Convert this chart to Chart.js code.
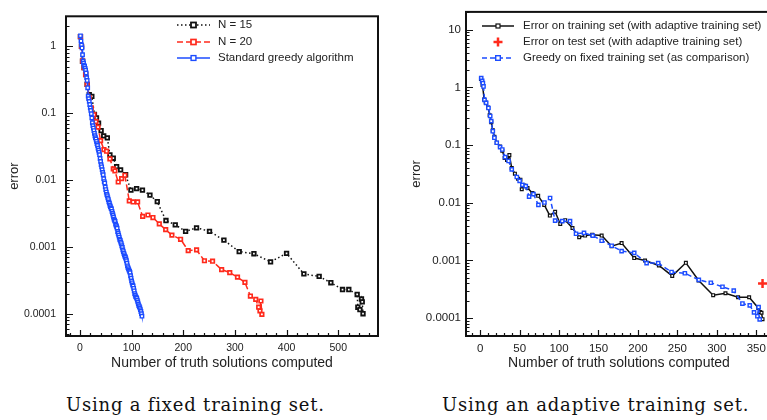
<!DOCTYPE html>
<html>
<head>
<meta charset="utf-8">
<script src="https://cdn.jsdelivr.net/npm/chart.js@4.4.0/dist/chart.umd.min.js"></script>
<style>
  html, body { margin: 0; padding: 0; background: #fff; width: 767px; height: 420px; overflow: hidden; }
  canvas { position: absolute; top: 0; }
  #leftChart { left: 0; }
  #rightChart { left: 385px; }
  .caption { position: absolute; top: 395px; line-height: 20px; font-family: "DejaVu Serif", serif; font-size: 18px; letter-spacing: 0.8px; color: #111; white-space: nowrap; }
</style>
</head>
<body>
<canvas id="leftChart" width="385" height="372"></canvas>
<canvas id="rightChart" width="400" height="372"></canvas>
<div class="caption" style="left:66px">Using a fixed training set.</div>
<div class="caption" style="left:442px">Using an adaptive training set.</div>
<script>
// ---- left panel: fixed training set ----
const n15X = [1, 3, 5, 8, 11, 14, 18, 23, 28, 32, 36, 41, 46, 53, 58, 64.5, 71, 78.7, 88.4, 98.7, 109.7, 121, 135.5, 149.7, 166.5, 184.5, 204.5, 225.7, 250.8, 278.7, 308.3, 336.8, 369, 400, 433.5, 463.1, 485.7, 508.3, 520.5, 536.7, 538, 542, 545, 546.5, 548];
const n15Err = [1.4, 1.0, 0.6, 0.48, 0.38, 0.27, 0.19, 0.179, 0.096, 0.085, 0.071, 0.055, 0.0457, 0.0428, 0.0238, 0.0212, 0.0159, 0.0142, 0.012, 0.00706, 0.00745, 0.00706, 0.00596, 0.00475, 0.00248, 0.00214, 0.00171, 0.00193, 0.00171, 0.00126, 0.00085, 0.00079, 0.000598, 0.0008, 0.000394, 0.000361, 0.000291, 0.00023, 0.00023, 0.000194, 0.000125, 0.000115, 0.000166, 0.00015, 0.0001];

const n20X = [1, 3, 5, 8, 11, 14, 18, 22, 27, 31, 35, 40, 46.4, 51.6, 58, 64.5, 67.7, 74.1, 80.7, 87, 95.5, 103, 111.6, 121.4, 131.6, 141.3, 153.6, 166, 178, 194.8, 209.6, 225.8, 241, 256.7, 274.3, 290, 305, 319.4, 330, 340.3, 346, 348.5, 350.3, 352.2];
const n20Err = [1.4, 1.0, 0.6, 0.48, 0.38, 0.27, 0.17, 0.12, 0.095, 0.075, 0.062, 0.039, 0.0285, 0.027, 0.0208, 0.0147, 0.0137, 0.00935, 0.0105, 0.0118, 0.00487, 0.0047, 0.0047, 0.00286, 0.003, 0.00275, 0.00221, 0.00181, 0.0015, 0.0013, 0.00088, 0.0009, 0.00062, 0.00061, 0.000457, 0.000413, 0.000352, 0.000294, 0.000184, 0.000164, 0.000125, 0.00011, 0.000155, 0.0000975];

const greedyX = [1, 2, 3, 4, 5, 6, 7, 8, 9, 10, 11, 12, 13, 14, 15, 16, 17, 18, 19, 20, 21, 22, 23, 24, 25, 26, 27, 28, 29, 30, 31, 32, 33, 34, 35, 36, 37, 38, 39, 40, 41, 42, 43, 44, 45, 46, 47, 48, 49, 50, 51, 52, 53, 54, 55, 56, 57, 58, 59, 60, 61, 62, 63, 64, 65, 66, 67, 68, 69, 70, 71, 72, 73, 74, 75, 76, 77, 78, 79, 80, 81, 82, 83, 84, 85, 86, 87, 88, 89, 90, 91, 92, 93, 94, 95, 96, 97, 98, 99, 100, 101, 102, 103, 104, 105, 106, 107, 108, 109, 110, 111, 112, 113, 114, 115, 116, 117, 118, 119, 120];
const greedyErr = [1.44, 1.2, 1.05, 0.95, 0.75, 0.6, 0.56, 0.52, 0.5, 0.47, 0.44, 0.4, 0.34, 0.31, 0.24, 0.18, 0.165, 0.15, 0.135, 0.12, 0.11, 0.098, 0.085, 0.072, 0.065, 0.06, 0.055, 0.05, 0.046, 0.043, 0.041, 0.038, 0.035, 0.033, 0.03, 0.028, 0.026, 0.024, 0.021, 0.019, 0.017, 0.0158, 0.0143, 0.013, 0.012, 0.0105, 0.0095, 0.009, 0.0079, 0.0072, 0.0066, 0.0061, 0.0058, 0.0054, 0.0051, 0.0047, 0.0045, 0.0042, 0.004, 0.0038, 0.0037, 0.0034, 0.0032, 0.003, 0.0028, 0.0026, 0.0025, 0.0024, 0.0022, 0.0021, 0.002, 0.0019, 0.0017, 0.0016, 0.0015, 0.0014, 0.0013, 0.00125, 0.00118, 0.00112, 0.00104, 0.00098, 0.0009, 0.00085, 0.0008, 0.00076, 0.00072, 0.0007, 0.00066, 0.00062, 0.00057, 0.00052, 0.00049, 0.00047, 0.00045, 0.00043, 0.00041, 0.00037, 0.00034, 0.00031, 0.00029, 0.00027, 0.00026, 0.00024, 0.00022, 0.0002, 0.00019, 0.00018, 0.000175, 0.00017, 0.00016, 0.00015, 0.00014, 0.000132, 0.000128, 0.000122, 0.000115, 0.000108, 0.0001, 0.000092];

// ---- right panel: adaptive training set ----
const adaptX = [1, 3, 5, 7, 10, 12, 14, 16, 18, 21, 25, 28, 31, 34, 37, 40, 44, 48, 51, 52.7, 56, 60, 66.2, 73.5, 81.2, 88.3, 95, 101.5, 107.8, 117, 125.5, 133, 142, 154, 166.7, 179.3, 195.3, 209, 226.6, 243.5, 260.8, 277, 295.4, 311, 327, 341, 352.6, 355, 356.7, 358];
const adaptErr = [1.4, 1.1, 0.62, 0.55, 0.45, 0.33, 0.25, 0.18, 0.14, 0.11, 0.095, 0.08, 0.06, 0.055, 0.067, 0.04, 0.032, 0.026, 0.025, 0.0172, 0.02, 0.018, 0.0147, 0.0132, 0.0092, 0.006, 0.007, 0.0043, 0.005, 0.00366, 0.00252, 0.0027, 0.0028, 0.0027, 0.00177, 0.002, 0.0011, 0.001, 0.00082, 0.00054, 0.00091, 0.00045, 0.00025, 0.00027, 0.00023, 0.00023, 0.00015, 0.000128, 0.000124, 0.000096];

const testX = [358];
const testErr = [0.0004];

const fixedX = [1.3, 2.5, 3.4, 4.2, 5.5, 7.6, 10.5, 12.7, 14, 16, 18, 21, 25.3, 28, 31.6, 36, 40, 46.4, 50, 53.5, 57.8, 62, 67.5, 73.8, 81.4, 88.6, 95, 104, 113.9, 121.5, 131.6, 142.7, 154, 166.7, 179.3, 195.3, 211, 225.7, 242.6, 259.5, 277.2, 292.4, 307.2, 321.5, 332.5, 341.8, 347.2, 351.5, 353, 354.4];
const fixedErr = [1.45, 1.3, 1.19, 1.04, 0.61, 0.54, 0.44, 0.32, 0.26, 0.174, 0.134, 0.11, 0.092, 0.084, 0.062, 0.053, 0.038, 0.028, 0.024, 0.0204, 0.0195, 0.0128, 0.0141, 0.0092, 0.0101, 0.0121, 0.0049, 0.0048, 0.0048, 0.0029, 0.003, 0.0027, 0.0022, 0.0018, 0.00145, 0.00135, 0.0009, 0.0009, 0.00063, 0.0006, 0.00046, 0.00041, 0.00035, 0.0003, 0.000179, 0.000166, 0.000126, 0.000108, 0.000155, 0.000095];

// tick labels
const leftXTicks = [0, 100, 200, 300, 400, 500];
const rightXTicks = [0, 50, 100, 150, 200, 250, 300, 350];
const leftYTicks = [0.0001, 0.001, 0.01, 0.1, 1];
const leftYLabels = ["0.0001", "0.001", "0.01", "0.1", "1"];
const rightYTicks = [0.0001, 0.001, 0.01, 0.1, 1, 10];
const rightYLabels = ["0.0001", "0.001", "0.01", "0.1", "1", "10"];

const BLACK = "#111111";
const RED = "#ff2a1c";
const BLUE = "#1c4cff";
const FONT = '"Liberation Sans", Arial, sans-serif';

function pts(xs, ys) {
  return xs.map((x, i) => ({ x: x, y: ys[i] }));
}

function yLabel(ticks, labels) {
  return v => {
    const i = ticks.findIndex(t => Math.abs(t - v) / t < 1e-6);
    return i < 0 ? "" : labels[i];
  };
}

// inward ticks, frame and legend drawn after the datasets
const decorPlugin = {
  id: "decor",
  afterDraw(chart, args, o) {
    const { ctx, chartArea: a, scales: { x, y } } = chart;
    ctx.save();
    ctx.strokeStyle = BLACK;
    ctx.lineWidth = 1.2;
    ctx.setLineDash([]);
    ctx.beginPath();
    for (let v = Math.ceil(x.min / o.xMinor) * o.xMinor; v <= x.max; v += o.xMinor) {
      const px = Math.round(x.getPixelForValue(v)) + 0.5;
      const len = v % o.xMajor === 0 ? 6 : 3;
      ctx.moveTo(px, a.bottom);
      ctx.lineTo(px, a.bottom - len);
    }
    const e0 = Math.floor(Math.log10(y.min)), e1 = Math.ceil(Math.log10(y.max));
    for (let e = e0; e <= e1; e++) {
      for (let m = 1; m < 10; m++) {
        const v = m * Math.pow(10, e);
        if (v < y.min || v > y.max) continue;
        const py = Math.round(y.getPixelForValue(v)) + 0.5;
        ctx.moveTo(a.left, py);
        ctx.lineTo(a.left + (m === 1 ? 7 : 3.5), py);
      }
    }
    ctx.stroke();
    ctx.lineWidth = 2;
    ctx.strokeRect(a.left, a.top, a.right - a.left, a.bottom - a.top);

    // legend
    ctx.font = o.legendFont + "px " + FONT;
    ctx.textBaseline = "middle";
    ctx.fillStyle = "#222";
    chart.data.datasets.forEach((ds, i) => {
      const ly = o.legendY[i];
      if (ds.showLine !== false) {
        ctx.strokeStyle = ds.borderColor;
        ctx.lineWidth = ds.borderWidth;
        ctx.setLineDash(ds.borderDash || []);
        ctx.beginPath();
        ctx.moveTo(o.legendX0, ly);
        ctx.lineTo(o.legendX1, ly);
        ctx.stroke();
        ctx.setLineDash([]);
      }
      const mx = (o.legendX0 + o.legendX1) / 2;
      const r = ds.pointRadius;
      ctx.strokeStyle = ds.pointBorderColor;
      ctx.lineWidth = ds.pointBorderWidth;
      if (ds.pointStyle === "cross") {
        ctx.beginPath();
        ctx.moveTo(mx - r, ly); ctx.lineTo(mx + r, ly);
        ctx.moveTo(mx, ly - r); ctx.lineTo(mx, ly + r);
        ctx.stroke();
      } else {
        ctx.fillStyle = "#fff";
        ctx.fillRect(mx - r, ly - r, 2 * r, 2 * r);
        ctx.strokeRect(mx - r, ly - r, 2 * r, 2 * r);
      }
      ctx.fillStyle = "#222";
      ctx.fillText(ds.label, o.legendTextX, ly);
    });
    ctx.restore();
  }
};

function series(label, xs, ys, color, dash, order, r, bw) {
  return {
    label: label,
    data: pts(xs, ys),
    borderColor: color,
    borderWidth: 1.5,
    borderDash: dash,
    pointStyle: "rect",
    pointRadius: r,
    pointBorderWidth: bw,
    pointBorderColor: color,
    pointBackgroundColor: "#fff",
    tension: 0,
    order: order
  };
}

function makeChart(id, datasets, s) {
  return new Chart(document.getElementById(id), {
    type: "line",
    data: { datasets: datasets },
    options: {
      responsive: false,
      animation: false,
      devicePixelRatio: 1,
      layout: { padding: { top: 10, right: s.padRight, left: 0, bottom: 0 } },
      plugins: { legend: { display: false }, tooltip: { enabled: false }, decor: s.decor },
      scales: {
        x: {
          type: "linear",
          min: s.xMin, max: s.xMax,
          grid: { display: false, drawTicks: false },
          border: { display: false },
          ticks: {
            stepSize: s.xStep, autoSkip: false, maxRotation: 0, padding: 6,
            color: "#222", font: { family: FONT, size: s.tickFont },
            callback: v => s.xTicks.includes(v) ? String(v) : ""
          },
          title: { display: true, text: "Number of truth solutions computed", color: "#222",
                   font: { family: FONT, size: 14 }, padding: { top: 0, bottom: 0 } },
          afterFit: sc => { sc.height = 36; }
        },
        y: {
          type: "logarithmic",
          min: s.yMin, max: s.yMax,
          grid: { display: false, drawTicks: false },
          border: { display: false },
          ticks: {
            autoSkip: false, padding: s.yPad, color: "#222",
            font: { family: FONT, size: s.tickFont },
            callback: yLabel(s.yTicks, s.yLabels)
          },
          title: { display: true, text: "error", color: "#222",
                   font: { family: FONT, size: 13 }, padding: { top: s.yTitlePad, bottom: 0 } },
          afterFit: sc => { sc.width = s.yWidth; }
        }
      }
    },
    plugins: [decorPlugin]
  });
}

makeChart("leftChart", [
  series("N = 15", n15X, n15Err, BLACK, [1.5, 2.5], 2, 2.5, 1.8),
  series("N = 20", n20X, n20Err, RED, [6, 3], 1, 2.5, 1.7),
  series("Standard greedy algorithm", greedyX, greedyErr, BLUE, [], 0, 2.4, 1.4)
], {
  padRight: 7, xMin: -27, xMax: 577, xStep: 20, xTicks: leftXTicks,
  yMin: 4.64e-5, yMax: 2.82, yTicks: leftYTicks, yLabels: leftYLabels,
  tickFont: 10.5, yPad: 10, yTitlePad: 7, yWidth: 66,
  decor: { xMinor: 20, xMajor: 100, legendFont: 11.5, legendX0: 177, legendX1: 210,
           legendTextX: 218, legendY: [25, 42, 58] }
});

const test = series("Error on test set (with adaptive training set)", testX, testErr, RED, [], 0, 4.5, 2.5);
test.pointStyle = "cross";
test.showLine = false;

makeChart("rightChart", [
  series("Error on training set (with adaptive training set)", adaptX, adaptErr, BLACK, [], 2, 2, 1.2),
  test,
  series("Greedy on fixed training set (as comparison)", fixedX, fixedErr, BLUE, [5, 3], 1, 2.3, 1.4)
], {
  padRight: 13, xMin: -18, xMax: 370, xStep: 10, xTicks: rightXTicks,
  yMin: 4.9e-5, yMax: 20.4, yTicks: rightYTicks, yLabels: rightYLabels,
  tickFont: 11.5, yPad: 5, yTitlePad: 24, yWidth: 81,
  decor: { xMinor: 10, xMajor: 50, legendFont: 11.5, legendX0: 97, legendX1: 129,
           legendTextX: 138, legendY: [26, 42, 58] }
});
</script>
</body>
</html>
